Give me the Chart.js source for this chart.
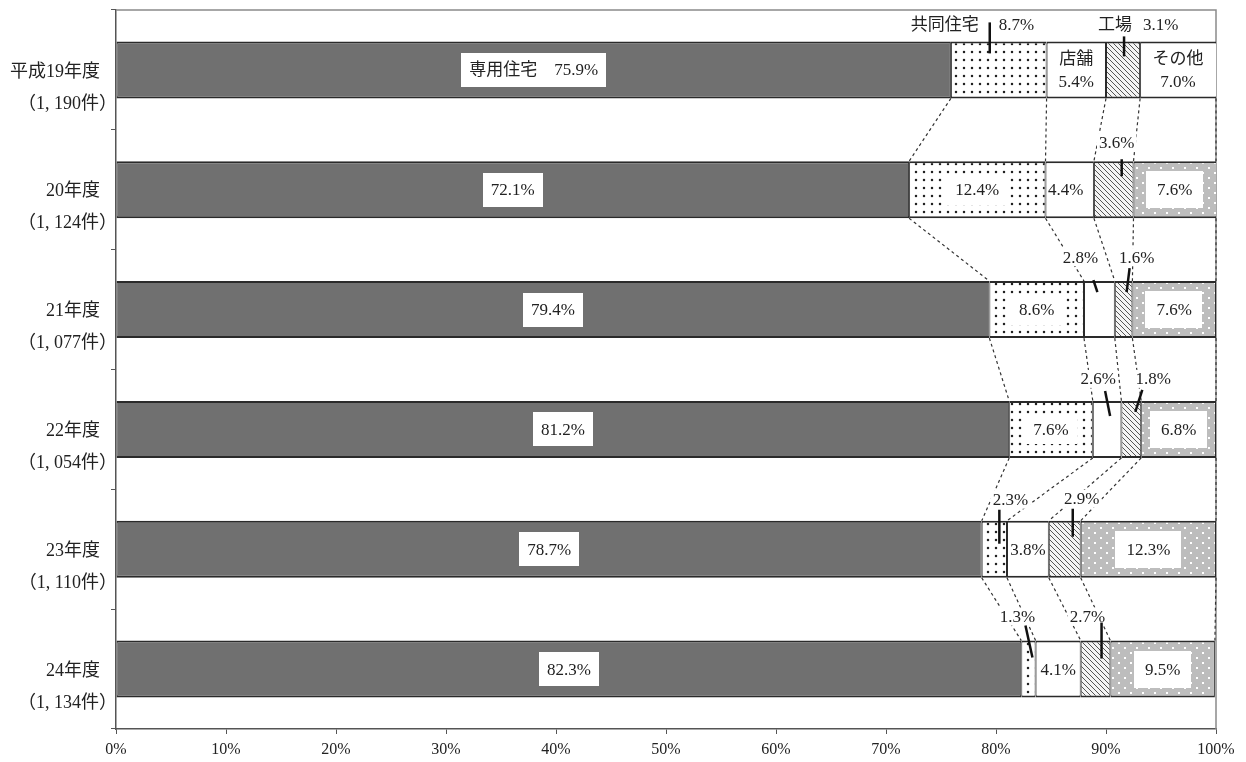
<!DOCTYPE html>
<html>
<head>
<meta charset="utf-8">
<script src="https://cdn.jsdelivr.net/npm/chart.js@4/dist/chart.umd.min.js"></script>
<style>
html,body{margin:0;padding:0;background:#ffffff;}
#wrap{width:1246px;height:762px;position:relative;}
</style>
</head>
<body>
<div id="wrap"><canvas id="c" width="1246" height="762"></canvas></div>
<script>
// ---- data ----
const categories = ['平成19年度', '20年度', '21年度', '22年度', '23年度', '24年度'];
const caseCounts = ['1, 190', '1, 124', '1, 077', '1, 054', '1, 110', '1, 134'];
const seriesNames = ['専用住宅', '共同住宅', '店舗', '工場', 'その他'];
const detached  = [75.9, 72.1, 79.4, 81.2, 78.7, 82.3];
const apartment = [8.7, 12.4, 8.6, 7.6, 2.3, 1.3];
const shop      = [5.4, 4.4, 2.8, 2.6, 3.8, 4.1];
const factory   = [3.1, 3.6, 1.6, 1.8, 2.9, 2.7];
const other     = [7.0, 7.6, 7.6, 6.8, 12.3, 9.5];
const xTickValues = [0, 10, 20, 30, 40, 50, 60, 70, 80, 90, 100];

// ---- styles ----
const SERIF = "'Liberation Serif','Noto Sans CJK JP',serif";
const INK = '#222222';

function makePattern(w, h, draw) {
  const c = document.createElement('canvas');
  c.width = w; c.height = h;
  const g = c.getContext('2d');
  draw(g, w, h);
  return g.createPattern(c, 'repeat');
}
const pDots = makePattern(8, 8, (g) => {
  g.fillStyle = '#ffffff'; g.fillRect(0, 0, 8, 8);
  g.fillStyle = '#222'; g.beginPath(); g.arc(4, 4, 1.25, 0, Math.PI * 2); g.fill();
});
const pHatch = makePattern(5, 5, (g) => {
  g.fillStyle = '#f4f4f4'; g.fillRect(0, 0, 5, 5);
  g.strokeStyle = '#555'; g.lineWidth = 1;
  g.beginPath();
  g.moveTo(-1, -1); g.lineTo(6, 6);
  g.moveTo(-1, 4); g.lineTo(1, 6);
  g.moveTo(4, -1); g.lineTo(6, 1);
  g.stroke();
});
const pGray = makePattern(12, 10, (g) => {
  g.fillStyle = '#bdbdbd'; g.fillRect(0, 0, 12, 10);
  g.fillStyle = '#ffffff';
  g.fillRect(2, 2, 2, 2);
  g.fillRect(8, 7, 2, 2);
});

const seriesValues = [detached, apartment, shop, factory, other];
const seriesFill = [
  '#707070',
  pDots,
  '#ffffff',
  pHatch,
  other.map((v, i) => i === 0 ? '#ffffff' : pGray)
];

// outside labels: offsets relative to segment centre / bar top
const outside = [
  {ds: 1, row: 0, dx: -20, dy: -17, align: 'right', text: 'name'},
  {ds: 1, row: 0, dx: 0, dy: -17, align: 'left', text: 'value', lead: [-9, -19, -9, 12]},
  {ds: 3, row: 0, dx: -25, dy: -17, align: 'left', text: 'name'},
  {ds: 3, row: 0, dx: 20, dy: -17, align: 'left', text: 'value', lead: [1, -5, 1, 15]},
  {ds: 3, row: 1, dx: 3, dy: -19, lead: [8, -2, 8, 15]},
  {ds: 2, row: 2, dx: -19, dy: -24, lead: [-6, -1, -2, 11]},
  {ds: 3, row: 2, dx: 13, dy: -24, lead: [6, -13, 3, 11]},
  {ds: 2, row: 3, dx: -9, dy: -22, lead: [-2, -10, 3, 15]},
  {ds: 3, row: 3, dx: 22, dy: -22, lead: [11, -11, 4, 11]},
  {ds: 1, row: 4, dx: 16, dy: -21, lead: [5, -11, 5, 23]},
  {ds: 3, row: 4, dx: 17, dy: -22, lead: [8, -12, 8, 16]},
  {ds: 1, row: 5, dx: -11, dy: -24, lead: [-3, -15, 4, 17]},
  {ds: 3, row: 5, dx: -8, dy: -24, lead: [6, -18, 6, 18]}
];

const fmt = (v) => v.toFixed(1) + '%';

const framePlugin = {
  id: 'frame',
  beforeDatasetsDraw(chart) {
    const {ctx, chartArea: ca} = chart;
    ctx.save();
    ctx.strokeStyle = '#8a8a8a';
    ctx.lineWidth = 1.5;
    ctx.beginPath();
    ctx.moveTo(ca.left, ca.top); ctx.lineTo(ca.right, ca.top); ctx.lineTo(ca.right, ca.bottom);
    ctx.stroke();
    ctx.restore();
  }
};

const annotPlugin = {
  id: 'annot',
  afterDatasetsDraw(chart) {
    const {ctx, chartArea: ca} = chart;
    const seg = (d, r) => {
      const el = chart.getDatasetMeta(d).data[r];
      const x0 = Math.min(el.base, el.x);
      const x1 = Math.min(Math.max(el.base, el.x), ca.right);
      return {x0, x1, cx: (x0 + x1) / 2, top: el.y - el.height / 2, bottom: el.y + el.height / 2, cy: el.y};
    };
    ctx.save();
    // dashed connectors between consecutive bars
    ctx.setLineDash([3, 3]);
    ctx.strokeStyle = '#333';
    ctx.lineWidth = 1.2;
    for (let r = 0; r < categories.length - 1; r++) {
      for (let k = 0; k < seriesValues.length; k++) {
        const a = seg(k, r), b = seg(k, r + 1);
        ctx.beginPath();
        ctx.moveTo(a.x1, a.bottom);
        ctx.lineTo(b.x1, b.top);
        ctx.stroke();
      }
    }
    ctx.setLineDash([]);

    ctx.textAlign = 'center';
    ctx.textBaseline = 'middle';
    ctx.font = '17px ' + SERIF;

    const boxed = (cx, cy, txt, padX, h) => {
      const w = ctx.measureText(txt).width + padX * 2;
      ctx.fillStyle = '#ffffff';
      ctx.fillRect(Math.round(cx - w / 2), Math.round(cy - h / 2), Math.round(w), h);
      ctx.fillStyle = INK;
      ctx.fillText(txt, cx, cy + 1);
    };

    // 専用住宅
    detached.forEach((v, r) => {
      const s = seg(0, r);
      boxed(s.cx, s.cy, (r === 0 ? seriesNames[0] + '　' : '') + fmt(v), 8, 34);
    });
    // 共同住宅 inside
    apartment.forEach((v, r) => {
      if (r >= 1 && r <= 3) { const s = seg(1, r); boxed(s.cx, s.cy, fmt(v), 9, 30); }
    });
    // 店舗 inside
    shop.forEach((v, r) => {
      const s = seg(2, r);
      ctx.fillStyle = INK;
      if (r === 0) {
        ctx.fillText(seriesNames[2], s.cx, s.cy - 10);
        ctx.fillText(fmt(v), s.cx, s.cy + 13);
      } else if (r === 1 || r === 4 || r === 5) {
        ctx.fillText(fmt(v), s.cx - (r === 1 ? 4 : 0), s.cy + 1);
      }
    });
    // その他
    other.forEach((v, r) => {
      const s = seg(4, r);
      if (r === 0) {
        ctx.fillStyle = INK;
        ctx.fillText(seriesNames[4], s.cx, s.cy - 10);
        ctx.fillText(fmt(v), s.cx, s.cy + 13);
      } else {
        boxed(s.cx, s.cy, fmt(v), 11, 37);
      }
    });

    // outside labels with leader lines
    outside.forEach((o) => {
      const s = seg(o.ds, o.row);
      const v = seriesValues[o.ds][o.row];
      const txt = o.text === 'name' ? seriesNames[o.ds] : fmt(v);
      const align = o.align || 'center';
      const tx = s.cx + o.dx, ty = s.top + o.dy;
      const w = ctx.measureText(txt).width;
      const left = align === 'center' ? tx - w / 2 : align === 'right' ? tx - w : tx;
      ctx.fillStyle = '#ffffff';
      ctx.fillRect(left - 2, ty - 9, w + 4, 18);
      ctx.fillStyle = INK;
      ctx.textAlign = align;
      ctx.fillText(txt, tx, ty + 1);
      ctx.textAlign = 'center';
      if (o.lead) {
        ctx.strokeStyle = '#111';
        ctx.lineWidth = 2.5;
        ctx.beginPath();
        ctx.moveTo(s.cx + o.lead[0], s.top + o.lead[1]);
        ctx.lineTo(s.cx + o.lead[2], s.top + o.lead[3]);
        ctx.stroke();
      }
    });
    ctx.restore();
  },
  afterDraw(chart) {
    const {ctx} = chart;
    const ys = chart.scales.y;
    ctx.save();
    ctx.font = '18px ' + SERIF;
    ctx.fillStyle = INK;
    ctx.textAlign = 'right';
    ctx.textBaseline = 'middle';
    categories.forEach((c, i) => {
      const y = ys.getPixelForValue(i);
      ctx.fillText(c, 100, y + 2);
      ctx.fillText('（' + caseCounts[i] + '件）', 117, y + 34);
    });
    ctx.restore();
  }
};

new Chart(document.getElementById('c'), {
  type: 'bar',
  data: {
    labels: categories,
    datasets: seriesValues.map((vals, i) => ({
      label: seriesNames[i],
      data: vals,
      backgroundColor: seriesFill[i],
      borderColor: '#2a2a2a',
      borderWidth: {top: 2, bottom: 2, left: 1, right: 1},
      borderSkipped: false,
      barPercentage: 0.476,
      categoryPercentage: 1.0
    }))
  },
  options: {
    indexAxis: 'y',
    responsive: false,
    animation: false,
    layout: {padding: {top: 10, right: 30, left: 0, bottom: 0}},
    plugins: {legend: {display: false}, tooltip: {enabled: false}},
    scales: {
      x: {
        stacked: true,
        min: 0,
        max: 100,
        afterBuildTicks(s) { s.ticks = xTickValues.map((v) => ({value: v})); },
        ticks: {
          callback: (v) => v + '%',
          font: {family: SERIF, size: 16},
          color: INK,
          padding: 6,
          maxRotation: 0,
          autoSkip: false
        },
        grid: {display: true, drawOnChartArea: false, tickLength: 5, color: '#555'},
        border: {display: true, color: '#555', width: 1.5},
        afterFit(s) { s.height = 33; }
      },
      y: {
        stacked: true,
        ticks: {display: false},
        grid: {display: true, drawOnChartArea: false, tickLength: 5, color: '#555', offset: true},
        border: {display: true, color: '#555', width: 1.5},
        afterFit(s) { s.width = 116; }
      }
    }
  },
  plugins: [framePlugin, annotPlugin]
});
</script>
</body>
</html>
